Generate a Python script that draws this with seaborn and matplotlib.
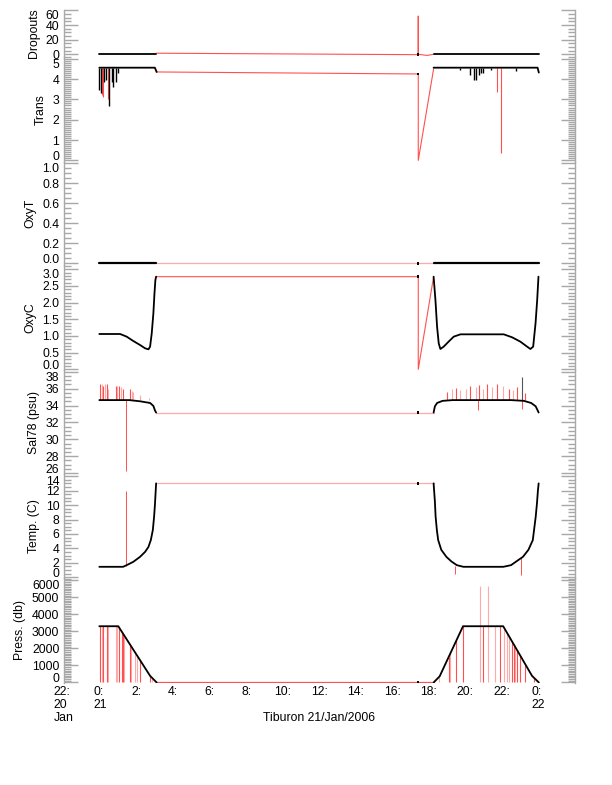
import matplotlib
matplotlib.use("Agg")
import matplotlib.pyplot as plt
import seaborn as sns
from matplotlib.ticker import AutoMinorLocator, FormatStrFormatter

sns.set_theme(style="white")
plt.rcParams['font.family'] = ['Liberation Sans', 'DejaVu Sans']

# ---------------- data (time = hours since 22:00, 20 Jan 2006) ----------------
tick_hours = list(range(0, 28, 2))
tick_labels = ["22:\n20\nJan", "0:\n21", "2:", "4:", "6:", "8:", "10:", "12:",
               "14:", "16:", "18:", "20:", "22:", "0:\n22"]
x_title = "Tiburon 21/Jan/2006"

blip_t = 19.42
gap_t = [5.07, 19.42, 20.26]
gap_drop_t = [5.07, 19.42, 19.42, 20.26]

# Dropouts
drop_cast1_t = [1.96, 5.07]
drop_cast1 = [0, 0]
drop_cast2_t = [20.26, 26.01]
drop_cast2 = [0, 0]
drop_gap_t = [5.07, 19.42, 19.42, 19.42, 19.90, 20.26]
drop_gap = [1.5, -0.5, 52, 0, -1.5, 0]
drop_blip = 0

# Trans
trans_cast1_t = [1.96, 5.00, 5.10]
trans_cast1 = [4.56, 4.56, 4.35]
trans_cast2_t = [20.26, 25.95, 26.02]
trans_cast2 = [4.56, 4.56, 4.32]
trans_gap = [4.35, 4.25, 0.0, 4.50]
trans_blip = 4.25
trans_base = 4.56
trans_spike_dark_t = [1.96, 2.04, 2.22, 2.33, 2.51, 2.64, 2.73, 2.88, 3.00,
                      21.70, 22.27, 22.45, 22.60, 22.73, 22.85, 22.94, 23.40, 24.79]
trans_spike_dark = [3.46, 3.30, 3.87, 3.95, 2.67, 3.87, 3.63, 3.87, 4.30,
                    4.45, 4.20, 3.95, 3.95, 4.20, 4.32, 4.32, 4.45, 4.41]
trans_spike_red_t = [2.09, 2.15, 2.41, 23.74, 23.97]
trans_spike_red = [3.20, 3.10, 3.00, 3.38, 0.34]

# OxyT
oxyt_cast1_t = [1.96, 5.07]
oxyt_cast1 = [0, 0]
oxyt_cast2_t = [20.26, 26.01]
oxyt_cast2 = [0, 0]
oxyt_gap = [0, 0, 0, 0]
oxyt_blip = 0

# OxyC
oxyc_cast1_t = [1.96, 3.10, 3.46, 3.82, 4.19, 4.47, 4.65, 4.74, 4.83, 4.92, 4.98, 5.03, 5.07]
oxyc_cast1 = [1.06, 1.06, 0.98, 0.85, 0.73, 0.63, 0.60, 0.68, 1.08, 1.68, 2.28, 2.68, 2.78]
oxyc_cast2_t = [20.26, 20.36, 20.45, 20.54, 20.63, 20.81, 21.08, 21.36, 21.73,
                24.10, 24.56, 25.01, 25.38, 25.56, 25.71, 25.84, 25.93, 26.00]
oxyc_cast2 = [2.78, 2.08, 1.28, 0.78, 0.61, 0.68, 0.83, 0.98, 1.05,
              1.05, 0.96, 0.83, 0.68, 0.61, 0.68, 1.38, 2.08, 2.78]
oxyc_gap = [2.78, 2.78, 0.0, 2.78]
oxyc_blip = 2.78

# Sal78
sal_cast1_t = [1.96, 3.60, 4.19, 4.74, 4.92, 5.01, 5.07]
sal_cast1 = [34.64, 34.64, 34.50, 34.30, 33.95, 33.40, 33.17]
sal_cast2_t = [20.26, 20.33, 20.45, 20.75, 21.30, 24.50, 25.20, 25.60, 25.85, 26.01]
sal_cast2 = [33.17, 33.90, 34.30, 34.55, 34.64, 34.64, 34.55, 34.30, 33.90, 33.17]
sal_gap = [33.17, 33.17, 33.17]
sal_blip = 33.17
sal_base = 34.64
sal_spike_red_t = [2.00, 2.18, 2.37, 2.86, 3.04, 3.24, 3.64,
                   21.01, 21.51, 22.27, 22.77, 23.21, 23.75, 24.36, 24.82, 25.29]
sal_spike_red = [36.5, 36.3, 36.5, 36.3, 36.3, 36.0, 35.9,
                 35.6, 36.1, 36.3, 36.4, 36.5, 36.6, 36.0, 36.2, 35.5]
sal_spike_pink_t = [2.09, 2.27, 2.45, 2.95, 3.13, 3.74, 3.82, 4.19, 4.68,
                    21.29, 21.73, 22.05, 22.60, 22.99, 23.48, 24.08, 24.60]
sal_spike_pink = [36.5, 36.5, 36.0, 36.3, 36.2, 35.7, 35.6, 35.2, 34.9,
                  35.9, 35.8, 36.0, 36.2, 36.0, 36.2, 36.3, 35.8]
sal_spike_dark_t = [25.10]
sal_spike_dark = [37.4]
sal_spike_down_t = [3.42, 22.70, 25.10]
sal_spike_down = [26.2, 33.5, 33.6]

# Temperature
temp_cast1_t = [1.96, 3.26, 3.46, 3.82, 4.19, 4.47, 4.65, 4.78, 4.89, 4.96, 5.01, 5.05, 5.07]
temp_cast1 = [1.45, 1.45, 1.68, 2.14, 2.83, 3.53, 4.20, 5.15, 6.54, 8.40, 10.25, 12.10, 13.00]
temp_cast2_t = [20.26, 20.33, 20.37, 20.44, 20.51, 20.68, 20.96, 21.23, 21.53, 21.89,
                24.08, 24.50, 24.79, 25.15, 25.45, 25.69, 25.85, 25.92, 25.97, 26.01]
temp_cast2 = [13.0, 10.5, 8.4, 6.5, 5.15, 3.8, 2.83, 2.2, 1.68, 1.45,
              1.45, 1.68, 2.2, 2.83, 3.8, 5.15, 8.4, 10.3, 12.0, 13.0]
temp_gap = [13.0, 13.0, 13.0]
temp_blip = 13.0
temp_spike_t = [3.42, 21.45, 25.05]
temp_spike_from = [1.6, 1.6, 2.6]
temp_spike_to = [12.0, 0.5, 0.3]

# Pressure
press_cast1_t = [1.96, 3.00, 4.74, 5.10]
press_cast1 = [3300, 3300, 390, 0]
press_cast2_t = [20.26, 20.59, 21.87, 24.07, 25.65, 26.02]
press_cast2 = [0, 360, 3300, 3300, 385, 0]
press_gap = [0, 0, 0]
press_blip = 0
press_spike_red_t = [2.00, 2.15, 2.38, 3.04, 3.19, 3.26, 3.64, 4.19, 4.74,
                     21.08, 21.51, 21.87, 22.95, 23.88, 24.56, 24.65, 24.83, 25.01, 25.29, 25.74]
press_spike_red = [3300, 3300, 3300, 3233, 2982, 2865, 2230, 1310, 390,
                   1485, 2473, 3300, 3300, 3300, 2396, 2230, 1898, 1566, 1049, 290]
press_spike_pink_t = [2.09, 2.45, 2.88, 2.95, 3.33, 3.70, 3.92, 4.01, 4.83,
                      20.54, 21.18, 22.78, 23.22, 23.64, 24.14, 24.28, 24.37, 24.74]
press_spike_pink = [3300, 3300, 3300, 3300, 2748, 2130, 1762, 1611, 290,
                    300, 1715, 5650, 5650, 3300, 3171, 2913, 2746, 2064]

# ---------------- styling ----------------
RED = "#ff5050"
PINK = "#ffaaaa"
AXC = "#a8a8a8"
FS = 8.8
LW = 1.3

fig = plt.figure(figsize=(6.12, 7.85), dpi=100)
W, H = 612.0, 785.0
left_px, right_px = 63.5, 575.0
bounds = [10, 56.5, 162, 265, 370, 474, 578, 683]


def make_ax(i):
    top, bot = bounds[i], bounds[i + 1]
    ax = fig.add_axes([left_px / W, 1 - bot / H, (right_px - left_px) / W, (bot - top) / H])
    ax.patch.set_alpha(0)
    ax.set_xlim(0, 28)
    for s in ("top", "bottom"):
        ax.spines[s].set_visible(False)
    for s in ("left", "right"):
        ax.spines[s].set_visible(True)
        ax.spines[s].set_color(AXC)
        ax.spines[s].set_linewidth(1.0)
    ax.tick_params(axis="y", which="both", direction="in", left=True, right=True,
                   labelright=False, color=AXC, width=1.0, labelsize=FS, pad=3,
                   labelcolor="black")
    ax.tick_params(axis="y", which="major", length=10)
    ax.tick_params(axis="y", which="minor", length=5)
    ax.set_xticks(tick_hours)
    ax.tick_params(axis="x", bottom=False, labelbottom=False)
    ax.grid(False)
    return ax


def line(ax, t, v, color, lw):
    sns.lineplot(x=t, y=v, ax=ax, color=color, lw=lw, sort=False,
                 estimator=None, legend=False)


def dot(ax, v):
    sns.scatterplot(x=[blip_t], y=[v], ax=ax, color="black", marker="s", s=3,
                    edgecolor="none", legend=False, zorder=5)


def finish(ax, ylim, ticks, minor, fmt, label, shift_bottom=True):
    ax.set_ylim(*ylim)
    ax.set_yticks(ticks)
    ax.yaxis.set_minor_locator(AutoMinorLocator(minor))
    ax.yaxis.set_major_formatter(FormatStrFormatter(fmt))
    ax.set_ylabel(label, fontsize=FS, labelpad=4, color="black")
    mt = ax.yaxis.get_major_ticks()
    if shift_bottom:
        mt[0].label1.set_verticalalignment("baseline")
    mt[-1].label1.set_verticalalignment("top")


# Dropouts
ax = make_ax(0)
line(ax, drop_gap_t, drop_gap, RED, 0.8)
line(ax, drop_cast1_t, drop_cast1, "black", LW)
line(ax, drop_cast2_t, drop_cast2, "black", LW)
dot(ax, drop_blip)
finish(ax, (-3, 60.5), [0, 20, 40, 60], 4, "%d", "Dropouts", shift_bottom=False)

# Trans
ax = make_ax(1)
line(ax, gap_drop_t, trans_gap, RED, 0.8)
ax.vlines(trans_spike_red_t, trans_spike_red, trans_base, color=RED, lw=0.8)
ax.vlines(trans_spike_dark_t, trans_spike_dark, trans_base, color="black", lw=1.0)
line(ax, trans_cast1_t, trans_cast1, "black", LW)
line(ax, trans_cast2_t, trans_cast2, "black", LW)
dot(ax, trans_blip)
finish(ax, (-0.08, 5.11), [0, 1, 2, 3, 4, 5], 10, "%d", "Trans")

# OxyT
ax = make_ax(2)
line(ax, gap_drop_t, oxyt_gap, PINK, 0.9)
line(ax, oxyt_cast1_t, oxyt_cast1, "black", 1.6)
line(ax, oxyt_cast2_t, oxyt_cast2, "black", 1.6)
dot(ax, oxyt_blip)
finish(ax, (-0.015, 1.015), [0, 0.2, 0.4, 0.6, 0.8, 1.0], 4, "%.1f", "OxyT")

# OxyC
ax = make_ax(3)
line(ax, gap_drop_t, oxyc_gap, RED, 0.8)
line(ax, oxyc_cast1_t, oxyc_cast1, "black", LW)
line(ax, oxyc_cast2_t, oxyc_cast2, "black", LW)
dot(ax, oxyc_blip)
finish(ax, (-0.02, 3.13), [0, 0.5, 1.0, 1.5, 2.0, 2.5, 3.0], 5, "%.1f", "OxyC")

# Sal78
ax = make_ax(4)
line(ax, gap_t, sal_gap, PINK, 0.9)
ax.vlines(sal_spike_pink_t, sal_base, sal_spike_pink, color=PINK, lw=0.8)
ax.vlines(sal_spike_red_t, sal_base, sal_spike_red, color=RED, lw=0.8)
ax.vlines(sal_spike_down_t, sal_spike_down, sal_base, color=RED, lw=0.7)
ax.vlines(sal_spike_dark_t, sal_base, sal_spike_dark, color="#555555", lw=0.8)
line(ax, sal_cast1_t, sal_cast1, "black", LW)
line(ax, sal_cast2_t, sal_cast2, "black", LW)
dot(ax, sal_blip)
finish(ax, (25.9, 38.2), [26, 28, 30, 32, 34, 36, 38], 4, "%d", "Sal78 (psu)")

# Temperature
ax = make_ax(5)
line(ax, gap_t, temp_gap, PINK, 0.9)
ax.vlines(temp_spike_t, temp_spike_from, temp_spike_to, color=RED, lw=0.7)
line(ax, temp_cast1_t, temp_cast1, "black", LW)
line(ax, temp_cast2_t, temp_cast2, "black", LW)
dot(ax, temp_blip)
finish(ax, (-0.1, 14.3), [0, 2, 4, 6, 8, 10, 12, 14], 4, "%d", "Temp. (C)")

# Pressure
ax = make_ax(6)
line(ax, gap_t, press_gap, RED, 0.9)
ax.vlines(press_spike_pink_t, 0, press_spike_pink, color=PINK, lw=0.8)
ax.vlines(press_spike_red_t, 0, press_spike_red, color=RED, lw=0.8)
line(ax, press_cast1_t, press_cast1, "black", LW)
line(ax, press_cast2_t, press_cast2, "black", LW)
dot(ax, press_blip)
finish(ax, (-30, 6130), [0, 1000, 2000, 3000, 4000, 5000, 6000], 10, "%d", "Press. (db)")
ax.tick_params(axis="x", bottom=True, labelbottom=True, length=0, pad=2,
               labelsize=FS, labelcolor="black")
ax.set_xticklabels(tick_labels, linespacing=1.15)
for lab in ax.get_xticklabels():
    lab.set_multialignment("left")

fig.text((left_px + right_px) / 2 / W, 1 - 718 / H, x_title, ha="center", va="center",
         fontsize=FS, color="black")

fig.savefig("out.png", dpi=100, facecolor="white")
